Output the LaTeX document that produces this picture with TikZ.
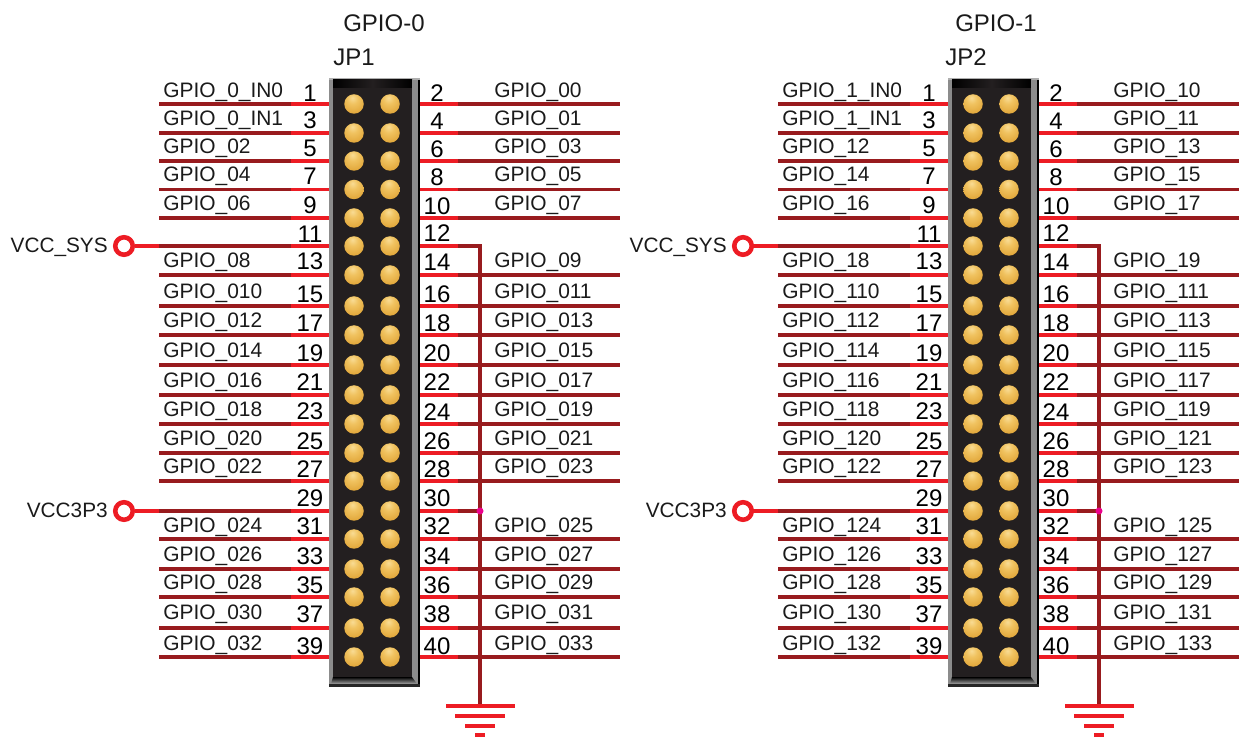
\documentclass[tikz,border=0pt]{standalone}
\usepackage{fontspec}
\setmainfont{Liberation Sans}
\definecolor{wirebright}{HTML}{ED1C24}
\definecolor{wiredark}{HTML}{981B1E}
\definecolor{bodyc}{HTML}{231F20}
\definecolor{bevel}{HTML}{8C8C8C}
\definecolor{txt}{HTML}{1A1A1A}
\definecolor{gold0}{HTML}{F9DC94}
\definecolor{gold1}{HTML}{F0C25F}
\definecolor{gold2}{HTML}{E2A83C}
\definecolor{gold3}{HTML}{BE8628}
\pgfdeclareradialshading{goldpin}{\pgfpoint{-4bp}{16bp}}{
  color(0bp)=(gold0);
  color(14bp)=(gold1);
  color(34bp)=(gold2);
  color(58bp)=(gold3);
  color(100bp)=(gold3)}
\tikzset{
  brightwire/.style={line width=3.2*0.75pt,wirebright},
  darkwire/.style={line width=3.6*0.75pt,wiredark},
  bar/.style={fill=wirebright,draw=none},
  pinlabel/.style={anchor=base west,inner sep=0pt,text=txt,font=\fontsize{15.7pt}{18pt}\selectfont},
  pinnum/.style={anchor=base,inner sep=0pt,text=black,font=\fontsize{18pt}{20pt}\selectfont},
  gptitle/.style={anchor=base west,inner sep=0pt,text=txt,font=\fontsize{18pt}{20pt}\selectfont},
  jptitle/.style={anchor=base west,inner sep=0pt,text=txt,font=\fontsize{18pt}{20pt}\selectfont},
  vcclabel/.style={anchor=base east,inner sep=0pt,text=txt,font=\fontsize{15.6pt}{18pt}\selectfont},
  pinball/.style={circle,draw=none,minimum size=19.5*0.75pt,inner sep=0pt,shading=goldpin},
  termc/.style={circle,draw=wirebright,fill=white,line width=4.6*0.75pt,minimum size=17.5*0.75pt,inner sep=0pt},
  junction/.style={circle,fill=magenta,draw=none,minimum size=7*0.75pt,inner sep=0pt},
  headbody/.style={rectangle,draw=none,fill=bodyc,minimum width=91*0.75pt,minimum height=609*0.75pt,inner sep=0pt}
}
\newcommand\gpiohdr[6]{% dx, digit, JP name, title dx, wire end x, node prefix
\begin{scope}[xshift=#1*0.75pt]
  % header body
  \node[headbody] (#6h) at (374.5,382.5) {};
  \fill[bevel!70!white] (329,78) rectangle (420,82);
  \shade[left color=black,right color=black,middle color=bodyc] (333,80) rectangle (412,88);
  \fill[bevel] (329,80) rectangle (332.5,684);
  \fill[bevel] (412,80) rectangle (418,684);
  \fill[black] (418,80) rectangle (420,687);
  \shade[top color=black,bottom color=bevel!80!white] (333,677) -- (412,677) -- (417,684) -- (331,684) -- cycle;
  \fill[black!85] (329,684) rectangle (420,687);
  % signal rows
  \foreach \i/\ly/\nl/\tl/\ltxt/\nn/\nr/\tr/\rtxt/\yr in {
     1/104/102/97.7/\_#2\_IN0/2/102/97.7/#20/104,
     3/133/129/125.7/\_#2\_IN1/4/130/125.7/#21/133,
     5/161/157/153.7/#22/6/158/153.7/#23/161,
     7/189.5/185/181.7/#24/8/186/181.7/#25/189.5,
     9/218/214/210.7/#26/10/215/210.7/#27/218,
     13/275/270/267.7/#28/14/271/267.7/#29/275,
     15/306/303/298.7/#210/16/303/298.7/#211/306,
     17/335/332/327.7/#212/18/332/327.7/#213/335,
     19/365/362/357.7/#214/20/362/357.7/#215/365,
     21/395/391/387.7/#216/22/391/387.7/#217/395,
     23/424/420/416.7/#218/24/421/416.7/#219/424,
     25/453/450/445.7/#220/26/450/445.7/#221/453,
     27/481/478/473.7/#222/28/478/473.7/#223/481,
     31/539/535/532.7/#224/32/535/532.7/#225/539,
     33/569/565/561.7/#226/34/565/561.7/#227/569,
     35/597/594/589.7/#228/36/594/589.7/#229/597,
     37/628/623/619.7/#230/38/623/619.7/#231/628,
     39/657/654/650.7/#232/40/654/650.7/#233/657}{
    \coordinate (#6a\i) at (159,\ly);
    \coordinate (#6b\i) at (291,\ly);
    \coordinate (#6c\i) at (458,\yr);
    \coordinate (#6d\i) at (#5,\yr);
    \draw[darkwire] (#6a\i) -- (#6b\i);
    \draw[brightwire] (#6b\i) -- (#6h.west |- #6b\i);
    \draw[brightwire] (#6h.east |- #6c\i) -- (#6c\i);
    \draw[darkwire] (#6c\i) -- (#6d\i);
    \node[pinball] (#6p\i) at (354,\ly) {};
    \node[pinball] (#6q\i) at (390,\ly) {};
    \node[pinnum] (#6nl\i) at (310,\nl) {\i};
    \node[pinnum] (#6nr\i) at (437,\nr) {\nn};
    \node[pinlabel] (#6tl\i) at (163,\tl) {GPIO\ifnum\i>3 \_\fi\ltxt};
    \node[pinlabel] (#6tr\i) at (494,\tr) {GPIO\_\rtxt};
  }
  % power rows
  \foreach \i/\ly/\nl/\nn/\nr/\vtxt in {11/246/243/12/242/VCC\_SYS,29/511/507/30/507/VCC3P3}{
    \node[termc] (#6v\i) at (124,\ly) {};
    \node[vcclabel] (#6vt\i) at (108,\ly+7) {\vtxt};
    \coordinate (#6a\i) at (159,\ly);
    \coordinate (#6b\i) at (291,\ly);
    \coordinate (#6c\i) at (458,\ly);
    \coordinate (#6d\i) at (480,\ly);
    \draw[brightwire] (#6v\i) -- (#6a\i);
    \draw[darkwire] (#6a\i) -- (#6b\i);
    \draw[brightwire] (#6b\i) -- (#6h.west |- #6b\i);
    \draw[brightwire] (#6h.east |- #6c\i) -- (#6c\i);
    \draw[darkwire] (#6c\i) -- (#6d\i);
    \node[pinball] (#6p\i) at (354,\ly) {};
    \node[pinball] (#6q\i) at (390,\ly) {};
    \node[pinnum] (#6nl\i) at (310,\nl) {\i};
    \node[pinnum] (#6nr\i) at (437,\nr) {\nn};
  }
  % ground
  \coordinate (#6gnd) at (480,706);
  \draw[darkwire,line cap=rect] (#6d11) -- (#6gnd);
  \node[junction] (#6j) at (#6d29) {};
  \fill[bar] (445.5,704) rectangle (514.5,708);
  \fill[bar] (455,713.5) rectangle (505,717.5);
  \fill[bar] (465,724) rectangle (495,728);
  \fill[bar] (475,733) rectangle (485,737);
  % titles
  \node[gptitle] (#6tt) at (343+#4,32) {GPIO-#2};
  \node[jptitle] (#6jp) at (333+#4,66) {#3};
\end{scope}}
\begin{document}
\begin{tikzpicture}[x=0.75pt,y=-0.75pt]
  \useasboundingbox (0,0) rectangle (1239,737);
  \gpiohdr{0}{0}{JP1}{0}{620}{A}
  \gpiohdr{619}{1}{JP2}{-7}{620}{B}
\end{tikzpicture}
\end{document}
